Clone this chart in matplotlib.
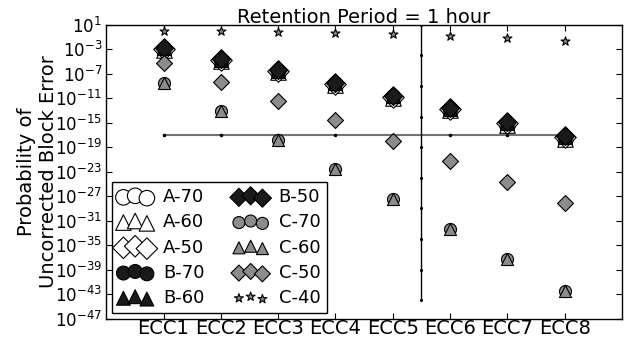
import matplotlib
matplotlib.use("Agg")
import matplotlib.pyplot as plt

ecc_labels = ["ECC1", "ECC2", "ECC3", "ECC4", "ECC5", "ECC6", "ECC7", "ECC8"]
ecc_pos = [1, 2, 3, 4, 5, 6, 7, 8]

a70 = [6.3e-4, 1.0e-5, 1.6e-7, 1.3e-9, 1.0e-11, 1.0e-13, 5.0e-16, 2.5e-18]
a60 = [6.3e-4, 1.0e-5, 1.6e-7, 1.3e-9, 1.0e-11, 1.0e-13, 5.0e-16, 2.5e-18]
a50 = [1.0e-3, 1.6e-5, 2.5e-7, 2.0e-9, 1.6e-11, 1.6e-13, 8.0e-16, 4.0e-18]
b70 = [1.3e-3, 2.0e-5, 3.2e-7, 2.5e-9, 2.0e-11, 2.0e-13, 1.0e-15, 5.0e-18]
b60 = [1.3e-3, 2.0e-5, 3.2e-7, 2.5e-9, 2.0e-11, 2.0e-13, 1.0e-15, 5.0e-18]
b50 = [1.6e-3, 2.5e-5, 4.0e-7, 3.2e-9, 2.5e-11, 2.5e-13, 1.3e-15, 6.3e-18]
c70 = [3.2e-9, 7.9e-14, 1.6e-18, 2.5e-23, 3.2e-28, 4.0e-33, 5.0e-38, 3.2e-43]
c60 = [3.2e-9, 7.9e-14, 1.6e-18, 2.5e-23, 3.2e-28, 4.0e-33, 5.0e-38, 3.2e-43]
c50 = [5.6e-6, 4.0e-9, 3.2e-12, 2.5e-15, 1.0e-18, 5.0e-22, 2.0e-25, 7.9e-29]
c40 = [0.93, 0.93, 0.63, 0.45, 0.32, 0.14, 0.063, 0.02]

target = [1e-17] * 8
split_x = [5.5] * 10
split_y = [1e1, 1e-4, 1e-9, 1e-14, 1e-19, 1e-24, 1e-29, 1e-34, 1e-39, 1e-44]

ytick_exp = [1, -3, -7, -11, -15, -19, -23, -27, -31, -35, -39, -43, -47]

GRAY = "0.55"
BLACK = "0.1"

# label, data, marker, face, size
series = [
    ("A-70", a70, "o", "white", 125),
    ("A-60", a60, "^", "white", 125),
    ("A-50", a50, "D", "white", 120),
    ("B-70", b70, "o", BLACK, 100),
    ("B-60", b60, "^", BLACK, 100),
    ("B-50", b50, "D", BLACK, 85),
    ("C-70", c70, "o", GRAY, 75),
    ("C-60", c60, "^", GRAY, 75),
    ("C-50", c50, "D", GRAY, 66),
    ("C-40", c40, "*", GRAY, 45),
]

fig = plt.figure(figsize=(6.25, 3.38), dpi=100)
ax = fig.add_axes([0.170, 0.057, 0.825, 0.870])

ax.plot(ecc_pos, target, "-", color="0.45", lw=1.5, marker=".", ms=3,
        mfc="k", mec="k", zorder=1)
ax.plot(split_x, split_y, "-", color="k", lw=1.0, marker=".", ms=2.5, zorder=1)

for label, vals, m, face, s in series:
    ax.scatter(ecc_pos, vals, s=s, marker=m, facecolors=face,
               edgecolors="k", linewidths=0.8, label=label, zorder=3)

ax.set_yscale("log")
ax.set_ylim(1e-47, 1e1)
ax.set_xlim(0, 9)
ax.set_yticks([10.0 ** e for e in ytick_exp])
ax.set_yticklabels([r"$10^{%d}$" % e for e in ytick_exp], fontsize=12)
ax.minorticks_off()
ax.set_xticks(ecc_pos)
ax.set_xticklabels(ecc_labels, fontsize=14)
ax.tick_params(direction="in", top=True, right=True, length=4)
ax.tick_params(axis="x", pad=0.5)
ax.tick_params(axis="y", pad=3)
for sp in ax.spines.values():
    sp.set_linewidth(1.0)

ax.set_ylabel("Probability of\nUncorrected Block Error", fontsize=14, labelpad=-2)
ax.set_title("Retention Period = 1 hour", fontsize=14, pad=1)

leg = ax.legend(loc="lower left", ncol=2, fontsize=13, scatterpoints=3,
                scatteryoffsets=[0.375, 0.5, 0.3125], markerscale=1.0,
                fancybox=False, framealpha=1, edgecolor="k",
                borderaxespad=0.3, labelspacing=0.4, columnspacing=1.6,
                handlelength=1.9, handletextpad=0.6, borderpad=0.35)
leg.get_frame().set_linewidth(1.0)

fig.savefig("out.png", dpi=100)
